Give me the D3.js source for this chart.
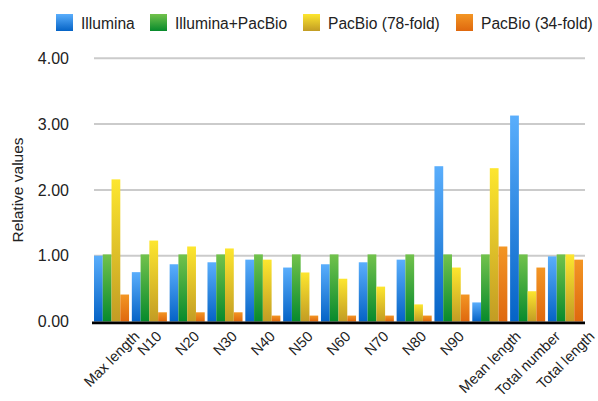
<!DOCTYPE html>
<html><head><meta charset="utf-8">
<script src="https://cdn.jsdelivr.net/npm/d3@7"></script>
<style>body{margin:0;background:#fff}svg{display:block;font-family:"Liberation Sans",Arial,Helvetica,sans-serif}</style>
</head><body>
<script>
const categories = ["Max length","N10","N20","N30","N40","N50","N60","N70","N80","N90","Mean length","Total number","Total length"];
const seriesNames = ["Illumina","Illumina+PacBio","PacBio (78-fold)","PacBio (34-fold)"];
const illumina      = [1.00,0.75,0.87,0.90,0.94,0.82,0.87,0.90,0.94,2.36,0.29,3.13,0.99];
const illuminaPacbio= [1.02,1.02,1.02,1.02,1.02,1.02,1.02,1.02,1.02,1.02,1.02,1.02,1.02];
const pacbio78      = [2.16,1.23,1.14,1.11,0.94,0.745,0.65,0.53,0.26,0.82,2.33,0.46,1.02];
const pacbio34      = [0.41,0.14,0.14,0.14,0.09,0.09,0.09,0.09,0.09,0.41,1.14,0.82,0.94];
const yTicks = [0,1,2,3,4];
const series = [illumina, illuminaPacbio, pacbio78, pacbio34];
const grads = [["#5aaefc","#0563c6"],["#72c24c","#078a2c"],["#fde62e","#c29c24"],["#f39624","#df680e"]];

const W=598,H=401;
const svg=d3.select("body").append("svg").attr("width",W).attr("height",H);
const defs=svg.append("defs");
grads.forEach((g,i)=>{
  const lg=defs.append("linearGradient").attr("id","g"+i).attr("x1",0).attr("y1",0).attr("x2",0).attr("y2",1);
  lg.append("stop").attr("offset","0%").attr("stop-color",g[0]);
  lg.append("stop").attr("offset","100%").attr("stop-color",g[1]);
});

const x=d3.scaleBand().domain(categories).range([94,583]).paddingInner(0.073).paddingOuter(0);
const xs=d3.scaleBand().domain(d3.range(4)).range([0,x.bandwidth()]);
const y=d3.scaleLinear().domain([0,4]).range([321.5,58.3]);

// gridlines
svg.append("g").selectAll("line").data(yTicks.filter(d=>d>0)).join("line")
  .attr("x1",94).attr("x2",585).attr("y1",d=>y(d)).attr("y2",d=>y(d))
  .attr("stroke","#cbcbcb").attr("stroke-width",2);

// y tick labels
svg.append("g").selectAll("text").data(yTicks).join("text")
  .attr("x",69).attr("y",d=>y(d)).attr("dy","0.35em").attr("text-anchor","end")
  .attr("font-size",16).attr("fill","#222").text(d=>d.toFixed(2));

// y title
svg.append("text").attr("transform","translate(23,190) rotate(-90)").attr("text-anchor","middle")
  .attr("font-size",15.5).attr("fill","#222").text("Relative values");

// bars
const groups=svg.append("g").selectAll("g").data(categories).join("g")
  .attr("transform",d=>`translate(${x(d)},0)`);
groups.selectAll("rect").data((c,ci)=>series.map((s,si)=>({si,v:s[ci]}))).join("rect")
  .attr("x",d=>xs(d.si)).attr("width",xs.bandwidth())
  .attr("y",d=>y(d.v)).attr("height",d=>y(0)-y(d.v))
  .attr("fill",d=>`url(#g${d.si})`);

// baseline
svg.append("line").attr("x1",92).attr("x2",585).attr("y1",y(0)+1.2).attr("y2",y(0)+1.2)
  .attr("stroke","#000").attr("stroke-width",2.5);
svg.append("line").attr("x1",92).attr("x2",585).attr("y1",y(0)+3).attr("y2",y(0)+3)
  .attr("stroke","#bbb").attr("stroke-width",1);

// x labels
const fs=14.6, top0=329;
svg.append("g").selectAll("text").data(categories).join("text")
  .attr("font-size",fs).attr("fill","#222").attr("text-anchor","middle").attr("dy","0.35em")
  .text(d=>d)
  .each(function(d){
    const w=this.getComputedTextLength();
    const cx=x(d)+x.bandwidth()/2;
    const cy=top0+(w+fs*0.9)*Math.SQRT1_2/2;
    d3.select(this).attr("transform",`translate(${cx},${cy}) rotate(-45)`);
  });

// legend
const legX=[56,150,303,456];
const leg=svg.append("g").selectAll("g").data(seriesNames).join("g")
  .attr("transform",(d,i)=>`translate(${legX[i]},14)`);
leg.append("rect").attr("width",17).attr("height",17).attr("fill",(d,i)=>`url(#g${i})`);
leg.append("text").attr("x",25).attr("y",14.5).attr("font-size",15.6).attr("fill","#222").text(d=>d);
</script>
</body></html>
